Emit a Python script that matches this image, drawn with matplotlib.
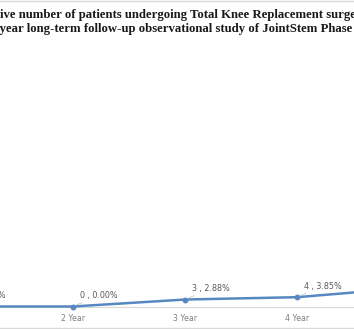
import matplotlib.pyplot as plt
from matplotlib.lines import Line2D

# data (1 Year and 5 Year sit outside the crop)
years = ["1 Year", "2 Year", "3 Year", "4 Year", "5 Year"]
counts = [0, 0, 3, 4, 8]
percents = [0.00, 0.00, 2.88, 3.85, 7.69]

title1 = "Cumulative number of patients undergoing Total Knee Replacement surgery"
title2 = "in the 5-year long-term follow-up observational study of JointStem Phase 3 trial"

W, H = 354, 329
fig = plt.figure(figsize=(W / 100, H / 100), dpi=100)

# the chart is bigger than the picture: axes run past both sides
step = 112
left = -39 - step / 2
base = 306.5
px_per_pct = 2.42
ax = fig.add_axes([left / W, (H - base) / H, 5 * step / W, 100 * px_per_pct / H])

x = list(range(len(years)))
blue = "#5788c1"
ax.plot(x, percents, color=blue, lw=1.8, marker="o", ms=3.2, zorder=3, clip_on=False)

ax.set_xlim(-0.5, len(years) - 0.5)
ax.set_ylim(0, 100)
ax.set_xticks(x)
ax.set_xticklabels(years, fontsize=5.6, color="#7f7f7f")
ax.tick_params(axis="x", length=0, pad=5.5)
ax.set_yticks([])
for s in ["top", "right", "left"]:
    ax.spines[s].set_visible(False)
ax.spines["bottom"].set_color("#d9d9d9")
ax.spines["bottom"].set_linewidth(0.8)

for i, (c, p) in enumerate(zip(counts, percents)):
    ax.annotate(f"{c} , {p:.2f}%", xy=(i, p), xytext=(5, 4.7), textcoords="offset points",
                fontsize=5.8, color="#595959", ha="left", va="bottom",
                arrowprops=dict(arrowstyle="-", color="#bfbfbf", lw=0.5,
                                shrinkA=0, shrinkB=2))

# title: place each line so the crop cuts it where the reference does
tfont = dict(fontsize=9.2, fontweight="bold", family="Liberation Serif", color="#1a1a1a")
r = fig.canvas.get_renderer()


def cut_width(s):
    t = fig.text(0, 0, s, **tfont)
    w = t.get_window_extent(r).width
    t.remove()
    return w


fig.text(-cut_width("Cumulat") / W, 1 - 15 / H, title1, ha="left", va="center", **tfont)
fig.text(-cut_width("in the 5-") / W, 1 - 29 / H, title2, ha="left", va="center", **tfont)

# outer chart border, only top and bottom edges show in the crop
fig.add_artist(Line2D([0, 1], [1 - 0.5 / H, 1 - 0.5 / H], color="#d9d9d9", lw=1))
fig.add_artist(Line2D([0, 1], [1.5 / H, 1.5 / H], color="#d9d9d9", lw=1))

fig.savefig("out.png", dpi=100)
